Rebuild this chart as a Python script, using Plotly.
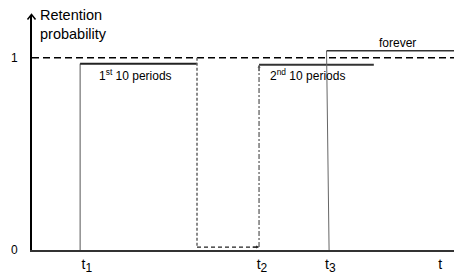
import plotly.graph_objects as go

# ---- data (x in arbitrary time units 0..100, y = retention probability) ----
horizon = 100.0
axis_top = 1.2224
full_level = 1.0

t1 = 11.4
period1_end = 39.1
period1_level = 0.969

gap_level = 0.015

t2 = 53.8
period2_end = 81.0
period2_level = 0.964

t3_bottom = 70.4
t3_top = 69.8
forever_level = 1.036

x_tick_vals = [13.0, 54.5, 70.7, 96.7]
x_tick_text = ["t<sub><span style='font-size:12px'>1</span></sub>",
               "t<sub><span style='font-size:12px'>2</span></sub>",
               "t<sub><span style='font-size:12px'>3</span></sub>", "t"]
y_tick_vals = [0, 1]
y_tick_text = ["0", "1"]

label_texts = ["1<sup>st</sup> 10 periods", "2<sup>nd</sup> 10 periods", "forever"]
label_x = [24.6, 65.2, 86.7]
label_y = [0.91, 0.91, 1.075]

font = "Liberation Sans, Arial, sans-serif"

fig = go.Figure()

def seg(x, y, color="black", width=1.5, dash="solid"):
    fig.add_trace(go.Scatter(x=x, y=y, mode="lines", cliponaxis=False,
                             line=dict(color=color, width=width, dash=dash),
                             hoverinfo="skip", showlegend=False))

# reference level 1
seg([0, horizon], [full_level, full_level], "black", 1.5, "7px,4px")
# first 10 periods
seg([t1, t1], [0, period1_level], "#555555", 1)
seg([t1, period1_end], [period1_level, period1_level], "#222222", 2)
# drop to zero
seg([period1_end, period1_end], [full_level, gap_level], "#666666", 1.5, "3px,2px")
seg([period1_end, t2 - 0.3], [gap_level, gap_level], "#222222", 1.2, "4px,3px")
seg([t2, t2], [gap_level, period2_level - 0.01], "#555555", 1.2, "5px,2px,2px,2px")
# second 10 periods
seg([t2, period2_end], [period2_level, period2_level], "#333333", 2)
# forever
seg([t3_bottom, t3_top], [0, forever_level], "#666666", 1)
seg([t3_top, horizon], [forever_level, forever_level], "#333333", 1.5)

annotations = []
for txt, x, y in zip(label_texts, label_x, label_y):
    annotations.append(dict(x=x, y=y, xref="x", yref="y", text=txt, showarrow=False,
                            font=dict(family=font, size=12, color="black")))
annotations.append(dict(x=0.014, y=1.0, xref="paper", yref="paper", xanchor="left", yanchor="top",
                        text="Retention<br>probability", showarrow=False, align="left",
                        yshift=10,
                        font=dict(family=font, size=14.5, color="black")))
# arrow heads on the dotted path
annotations.append(dict(x=t2, y=gap_level, ax=-8, ay=0, xref="x", yref="y",
                        showarrow=True, arrowhead=2, arrowsize=0.6, arrowwidth=1,
                        arrowcolor="#222222", text=""))
annotations.append(dict(x=t2, y=period2_level, ax=0, ay=8, xref="x", yref="y",
                        showarrow=True, arrowhead=2, arrowsize=0.6, arrowwidth=1,
                        arrowcolor="#555555", text=""))

# open arrow head at the top of the y axis
shapes = [dict(type="path", xref="paper", yref="paper",
               xsizemode="pixel", ysizemode="pixel", xanchor=0, yanchor=1,
               path="M-4.5,-4.5 L-0.5,0.5 L3.5,-4.5",
               line=dict(color="black", width=1.5))]

fig.update_layout(
    width=454, height=275,
    margin=dict(l=32, r=0, t=15, b=22),
    plot_bgcolor="white", paper_bgcolor="white",
    annotations=annotations,
    shapes=shapes,
    xaxis=dict(range=[0, horizon], showgrid=False, zeroline=False,
               showline=True, linecolor="#333333", linewidth=2,
               tickvals=x_tick_vals, ticktext=x_tick_text, ticks="",
               tickfont=dict(family=font, size=14, color="black")),
    yaxis=dict(range=[0, axis_top], showgrid=False, zeroline=False,
               showline=True, linecolor="black", linewidth=2,
               tickvals=y_tick_vals, ticktext=y_tick_text, ticks="",
               ticklabelstandoff=10,
               tickfont=dict(family=font, size=12, color="black")),
)

fig.write_html("out.html", config={"displayModeBar": False},
               post_script="document.body.style.margin='0';document.body.style.overflow='hidden';")
